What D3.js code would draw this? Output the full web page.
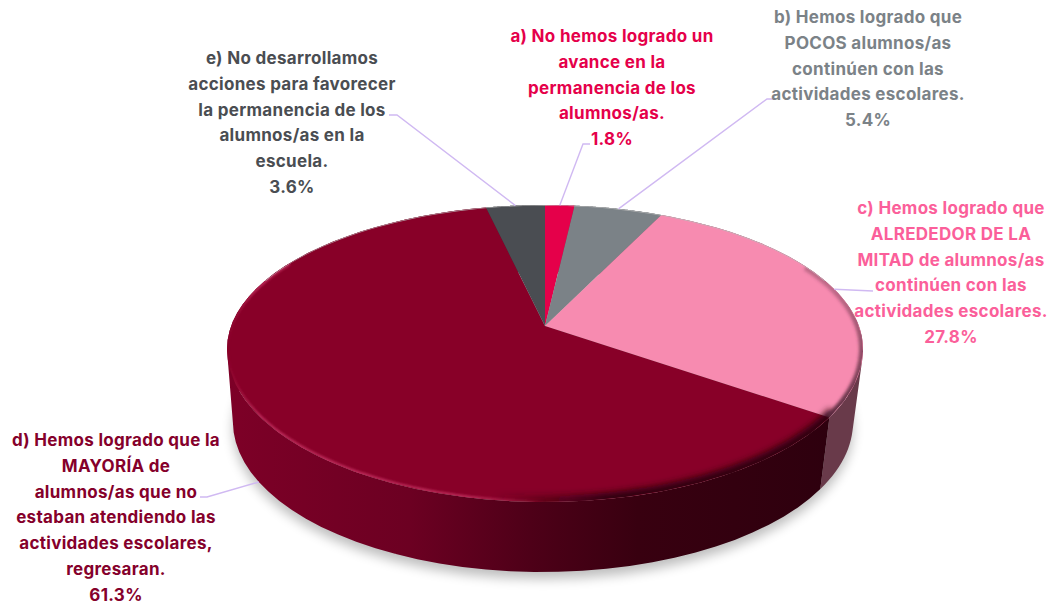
<!DOCTYPE html>
<html><head><meta charset="utf-8">
<script src="https://cdn.jsdelivr.net/npm/d3@7/dist/d3.min.js"></script>
<style>html,body{margin:0;background:#fff}svg{display:block}text{font-family:Inter,"Open Sans",sans-serif;font-weight:700;font-size:17px;letter-spacing:.3px;text-anchor:middle}</style>
</head><body><svg id="c" width="1061" height="603"></svg>
<script>
const categories=["a","b","c","d","e"];
const values=[1.8,5.4,27.8,61.3,3.6];
const percentLabels=["1.8%","5.4%","27.8%","61.3%","3.6%"];
const labelLines=[
 ["a) No hemos logrado un","avance en la","permanencia de los","alumnos/as."],
 ["b) Hemos logrado que","POCOS alumnos/as","continúen con las","actividades escolares."],
 ["c) Hemos logrado que","ALREDEDOR DE LA","MITAD de alumnos/as","continúen con las","actividades escolares."],
 ["d) Hemos logrado que la","MAYORÍA de","alumnos/as que no","estaban atendiendo las","actividades escolares,","regresaran."],
 ["e) No desarrollamos","acciones para favorecer","la permanencia de los","alumnos/as en la","escuela."]
];
const sliceColors=["#e5004a","#7b8287","#f78bb0","#880028","#4a4d52"];
const textColors=["#e5004a","#7b8287","#fb5f9a","#85002b","#4a4d52"];
const labelX=[612,868,951,116,292];
const labelY=[42,23,214,446,64];
const labelStep=25.75;
const elbows=[[[583,144],[590,144]],[[767,99],[774,99]],[[873,291]],[[207,497],[200,497]],[[397,115],[389,115]]];

const svg=d3.select("#c"),defs=svg.append("defs");
const P=0.1933,CX=545,CY=326,KX=312,KY=-81.4,DEPTH=67;
const rawRim=a=>{const u=Math.sin(a),v=Math.cos(a),w=1+P*v;return [CX+KX*u/w,(CY+KY*v)/w];};
const rim=a=>{const p=rawRim(a),t=(p[1]-355)/150;return [p[0],349+(t>=0?153:144)*t];};
const lowAt=a=>{const p=rawRim(a);return [543+(p[0]-545)*0.975,p[1]+DEPTH];};
const arcs=d3.pie().sort(null).value(d=>d)(values);
const sample=(a0,a1)=>d3.range(0,61).map(i=>a0+(a1-a0)*i/60);
const line=d3.line();

const blur=(id,s)=>defs.append("filter").attr("id",id).attr("x","-10%").attr("y","-10%").attr("width","120%").attr("height","120%")
  .append("feGaussianBlur").attr("stdDeviation",s);
blur("b6",6);blur("b3",3.2);blur("b2",1.8);blur("b1",1);

const grad=(id,stops,x1,x2)=>{const g=defs.append("linearGradient").attr("id",id).attr("gradientUnits","userSpaceOnUse")
  .attr("x1",x1).attr("x2",x2).attr("y1",0).attr("y2",0);
  stops.forEach(s=>g.append("stop").attr("offset",s[0]).attr("stop-color",s[1]).attr("stop-opacity",s[2]==null?1:s[2]));};
grad("sideD",[[0,"#7d0027"],[.3,"#6c0022"],[.5,"#4e0018"],[.68,"#380010"],[1,"#2e000e"]],230,830);
grad("glow",[[0,"#c2305f",.0],[.05,"#c2305f",.85],[.38,"#c2305f",.85],[.5,"#c2305f",0]],227,863);
grad("dark",[[.42,"#2a000c",0],[.6,"#2a000c",.95],[1,"#2a000c",.95]],227,863);
const vg=defs.append("linearGradient").attr("id","pinkEdge").attr("gradientUnits","userSpaceOnUse").attr("x1",0).attr("x2",0).attr("y1",290).attr("y2",420);
vg.append("stop").attr("offset",0).attr("stop-color","#5c2c40").attr("stop-opacity",.35);
vg.append("stop").attr("offset",1).attr("stop-color","#5c2c40").attr("stop-opacity",1);

const full=sample(0,2*Math.PI);
// soft shadow under the solid
svg.append("path").attr("d",line(full.map(a=>{const p=lowAt(a);return [p[0],p[1]+7];}))+"Z")
  .attr("fill","#000").attr("opacity",.26).attr("filter","url(#b6)");

// side walls: union of small hull quads so the silhouette stays straight at the extremes
const wall=d=>{const s=sample(d.startAngle,d.endAngle);
  return d3.pairs(s).map(([a,b])=>line(d3.polygonHull([rim(a),rim(b),lowAt(b),lowAt(a)]))+"Z").join("");};
svg.selectAll("path.side").data(arcs).enter().append("path").attr("class","side")
  .attr("d",wall)
  .attr("fill",(d,i)=>i===3?"url(#sideD)":i===2?"#693a4a":d3.color(sliceColors[i]).darker(1));

// top face
svg.selectAll("path.top").data(arcs).enter().append("path").attr("class","top")
  .attr("d",d=>line([[CX,CY]].concat(sample(d.startAngle,d.endAngle).map(rim)))+"Z")
  .attr("fill",(d,i)=>sliceColors[i]);

// bevel along the rim, kept inside the top face
defs.append("clipPath").attr("id","face").append("path").attr("d",line(full.map(rim))+"Z");
const bevel=svg.append("g").attr("clip-path","url(#face)");
const cd=arcs[3].startAngle;
bevel.append("path").attr("d",line(sample(cd-0.03,Math.PI*1.65).map(rim))).attr("fill","none").attr("stroke","url(#dark)").attr("stroke-width",13).attr("filter","url(#b3)");
bevel.append("path").attr("d",line(sample(Math.PI*0.36,cd).map(rim))).attr("fill","none").attr("stroke","url(#pinkEdge)").attr("stroke-width",8).attr("filter","url(#b2)");
bevel.append("path").attr("d",line(sample(Math.PI*0.9,Math.PI*1.65).map(rim))).attr("fill","none").attr("stroke","url(#glow)").attr("stroke-width",4).attr("filter","url(#b1)");
bevel.append("path").attr("d",line(sample(-Math.PI*.4,Math.PI*.4).map(rim))).attr("fill","none").attr("stroke","#bbb").attr("stroke-width",1.5).attr("opacity",.8);

// leaders
svg.selectAll("path.lead").data(arcs).enter().append("path").attr("class","lead")
  .attr("d",(d,i)=>{const m=(d.startAngle+d.endAngle)/2,p=i===3?lowAt(m):rim(m);return line([p].concat(elbows[i]));})
  .attr("fill","none").attr("stroke","#d0b9f2").attr("stroke-width",1.4);

// labels
categories.forEach((c,i)=>{
  const g=svg.append("text").attr("fill",textColors[i]);
  labelLines[i].concat(percentLabels[i]).forEach((s,j)=>{
    g.append("tspan").attr("x",labelX[i]).attr("y",labelY[i]+j*labelStep).text(s);
  });
});
</script></body></html>
